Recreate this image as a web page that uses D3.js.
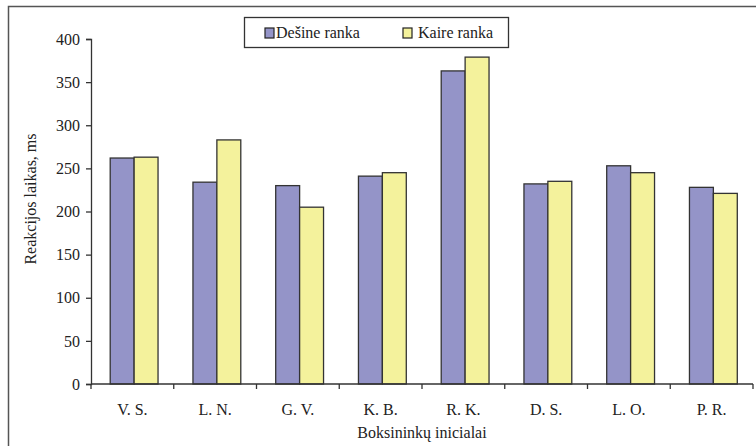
<!DOCTYPE html>
<html><head><meta charset="utf-8">
<script src="https://cdn.jsdelivr.net/npm/d3@7"></script>
<style>body{margin:0;background:#fff}svg{display:block}</style>
</head><body><svg id="c" width="756" height="446"></svg>
<script>
const categories = ["V. S.","L. N.","G. V.","K. B.","R. K.","D. S.","L. O.","P. R."];
const seriesNames = ["Dešine ranka","Kaire ranka"];
const rightHand = [262,234,230,241,363,232,253,228];
const leftHand  = [263,283,205,245,379,235,245,221];
const yTicks = [0,50,100,150,200,250,300,350,400];
const colors = ["#9494c8","#f4f29c"];

const svg = d3.select("#c");
const fs = 16;
const m = {l:91, r:753, t:39, b:384};

// outer frame
svg.append("path").attr("d","M8.5,446 V6.5 H756").attr("fill","none").attr("stroke","#555").attr("stroke-width",1.5);

const x = d3.scaleBand().domain(categories).range([m.l,m.r]);
const x1 = d3.scaleBand().domain([0,1]).range([0,x.bandwidth()]).paddingInner(0).paddingOuter(0.73).align(0.55);
const y = d3.scaleLinear().domain([0,400]).range([m.b,m.t]);

const data = [rightHand,leftHand];
const g = svg.append("g");
categories.forEach((c,i)=>{
  data.forEach((s,j)=>{
    g.append("rect")
      .attr("x", x(c)+x1(j)).attr("width", x1.bandwidth())
      .attr("y", y(s[i])).attr("height", y(0)-y(s[i]))
      .attr("fill", colors[j]).attr("stroke","#333").attr("stroke-width",1.3);
  });
});

// y axis
const ya = svg.append("g").attr("transform",`translate(${m.l},0)`)
  .call(d3.axisLeft(y).tickValues(yTicks).tickSize(5).tickPadding(6));
ya.selectAll("path,line").attr("stroke","#333").attr("stroke-width",1.3);
ya.selectAll("text").attr("font-size",fs).attr("fill","#222");

// x axis
const xa = svg.append("g").attr("transform",`translate(0,${m.b})`)
  .call(d3.axisBottom(x).tickSize(0).tickPadding(0));
xa.select("path").attr("d",`M${m.l},0H${m.r}`).attr("stroke","#333").attr("stroke-width",1.3);
xa.selectAll(".tick text").attr("font-size",fs).attr("fill","#222").attr("dy","1.95em");
const bounds = categories.map(c=>x(c)).concat([m.r]);
svg.append("g").selectAll("line").data(bounds).join("line")
  .attr("x1",d=>d).attr("x2",d=>d).attr("y1",m.b).attr("y2",m.b+5)
  .attr("stroke","#333").attr("stroke-width",1.3);

// titles
svg.append("text").attr("x",(m.l+m.r)/2).attr("y",438).attr("text-anchor","middle")
  .attr("font-size",fs).attr("fill","#222").text("Boksininkų inicialai");
svg.append("text").attr("transform","translate(36,199) rotate(-90)").attr("text-anchor","middle")
  .attr("font-size",fs).attr("fill","#222").text("Reakcijos laikas, ms");

// legend
const lg = svg.append("g");
lg.append("rect").attr("x",244.5).attr("y",17.5).attr("width",264).attr("height",30)
  .attr("fill","#fff").attr("stroke","#333").attr("stroke-width",1.3);
const lx = [265,403], tx=[276,418];
seriesNames.forEach((n,j)=>{
  lg.append("rect").attr("x",lx[j]).attr("y",28).attr("width",9).attr("height",10)
    .attr("fill",colors[j]).attr("stroke","#222").attr("stroke-width",1.2);
  lg.append("text").attr("x",tx[j]).attr("y",38).attr("font-size",fs)
    .attr("fill","#222").text(n);
});

svg.selectAll("g").attr("font-family","Liberation Serif");
svg.selectAll("text").attr("font-family","Liberation Serif").style("font-family","'Liberation Serif', serif");
</script></body></html>
